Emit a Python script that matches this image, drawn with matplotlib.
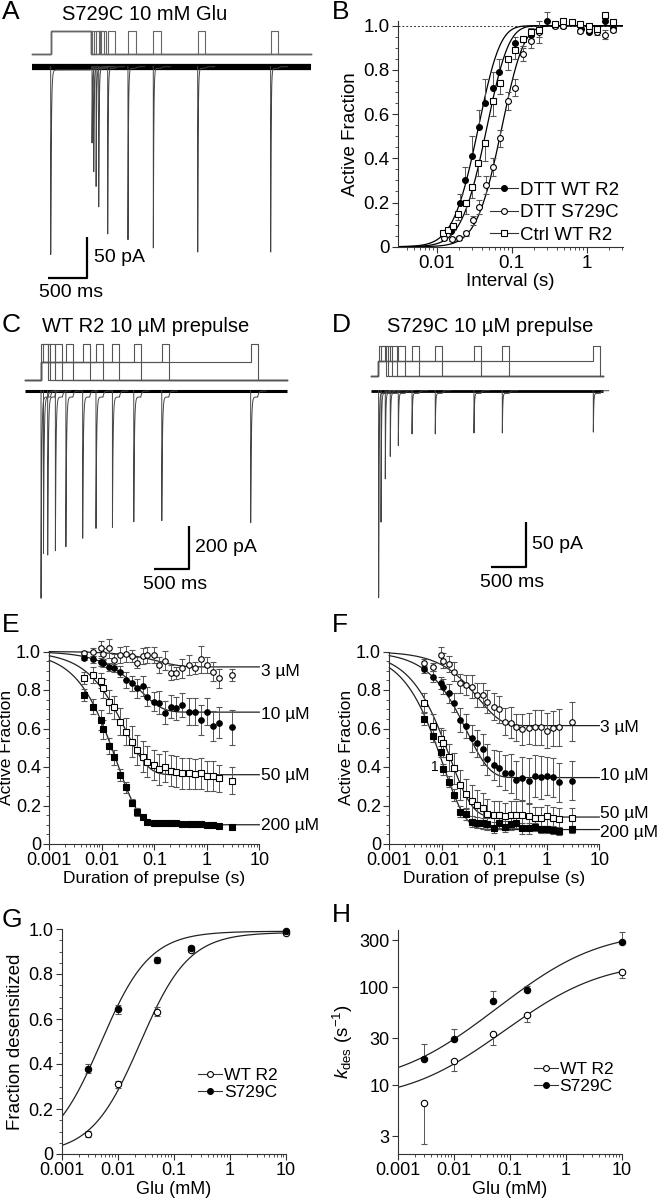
import numpy as np
import matplotlib
matplotlib.use("Agg")
import matplotlib.pyplot as plt
from matplotlib.lines import Line2D
from matplotlib.ticker import FixedLocator, FixedFormatter, MultipleLocator, LogLocator, NullFormatter, NullLocator

plt.rcParams['font.family'] = ['Liberation Sans', 'DejaVu Sans']
plt.rcParams['mathtext.fontset'] = 'custom'
plt.rcParams['mathtext.rm'] = 'Liberation Sans'
plt.rcParams['mathtext.it'] = 'Liberation Sans:italic'

# ---------------- data ----------------
# A: S729C, 10 mM Glu, conditioning pulse then test pulse (ms, pA)
a_cond_on = 240
a_cond_dur = 520
a_cond_peak = 229
a_intervals = [18, 40, 71, 105, 222, 486, 816, 1394, 2344]
a_peaks = [93, 128, 146, 171, 204, 211, 221, 226, 226]

# B: recovery from desensitization (interval s, active fraction)
b_wt_dtt_x = [0.0154, 0.0205, 0.0239, 0.0293, 0.037, 0.044, 0.0558, 0.0685, 0.111, 0.181, 0.296, 0.488, 0.83, 1.09, 1.75, 2.27]
b_wt_dtt_y = [0.07, 0.20, 0.30, 0.41, 0.54, 0.65, 0.72, 0.79, 0.92, 0.96, 1.02, 1.00, 0.985, 0.97, 1.02, 0.99]
b_wt_dtt_err = [0.02, 0.04, 0.06, 0.09, 0.08, 0.11, 0.07, 0.06, 0.03, 0.03, 0.04, 0.01, 0.01, 0.01, 0.02, 0.01]
b_s729c_dtt_x = [0.0125, 0.0158, 0.020, 0.0246, 0.0302, 0.037, 0.0455, 0.0558, 0.0698, 0.0885, 0.111, 0.143, 0.181, 0.234, 0.382, 0.488, 0.815, 1.06, 1.37, 1.75, 2.27]
b_s729c_dtt_y = [0.04, 0.035, 0.04, 0.06, 0.12, 0.18, 0.28, 0.36, 0.49, 0.66, 0.72, 0.87, 0.93, 0.97, 1.0, 1.0, 0.975, 0.98, 0.97, 0.96, 0.98]
b_s729c_dtt_err = [0.01, 0.01, 0.01, 0.01, 0.02, 0.03, 0.04, 0.04, 0.04, 0.04, 0.04, 0.03, 0.03, 0.05, 0.01, 0.01, 0.01, 0.01, 0.01, 0.02, 0.01]
b_wt_ctrl_x = [0.0123, 0.0143, 0.0163, 0.0194, 0.0246, 0.0293, 0.036, 0.044, 0.0558, 0.0698, 0.0885, 0.111, 0.143, 0.181, 0.234, 0.382, 0.488, 0.63, 0.815, 1.06, 1.37, 1.75, 2.27]
b_wt_ctrl_y = [0.06, 0.075, 0.095, 0.15, 0.20, 0.27, 0.38, 0.47, 0.66, 0.74, 0.85, 0.89, 0.94, 0.97, 0.98, 1.01, 1.02, 1.015, 1.01, 1.0, 0.985, 1.05, 1.015]
b_wt_ctrl_err = [0.01, 0.01, 0.02, 0.03, 0.05, 0.05, 0.06, 0.08, 0.07, 0.05, 0.05, 0.04, 0.03, 0.03, 0.03, 0.01, 0.01, 0.01, 0.01, 0.01, 0.02, 0.02, 0.01]
b_tau = [0.0185, 0.038, 0.024]   # fitted (1 - exp(-t/tau))^4
b_power = 4

# C / D: 10 uM prepulse duration (ms) and test peak (pA)
c_durations = [5, 40, 100, 210, 360, 600, 790, 1025, 1330, 1730, 3000]
c_peaks = [964, 755, 763, 743, 724, 685, 639, 634, 608, 603, 613]
d_durations = [5, 39, 100, 171, 286, 482, 814, 1367, 1772, 3072]
d_peaks = [230, 146, 98, 73, 61, 48, 48, 47, 47, 46]

# E / F: prepulse duration (s) vs active fraction
prepulse_s = [0.0045, 0.0068, 0.0097, 0.0107, 0.014, 0.0172, 0.0227, 0.029, 0.037, 0.0465, 0.06, 0.074, 0.097,
              0.124, 0.16, 0.207, 0.26, 0.34, 0.45, 0.585, 0.76, 0.99, 1.31, 1.71, 3.0]
conc_labels = ['3 µM', '10 µM', '50 µM', '200 µM']

e_3 = [0.994, 0.999, 1.016, 0.987, 1.016, 0.956, 0.982, 0.987, 0.977, 0.942, 0.977, 0.982, 0.982, 0.930, 0.952,
       0.890, 0.887, 0.913, 0.930, 0.913, 0.959, 0.930, 0.895, 0.861, 0.878]
e_10 = [0.965, 0.959, 0.947, 0.942, 0.918, 0.913, 0.895, 0.852, 0.835, 0.809, 0.821, 0.765, 0.739, 0.734, 0.683,
        0.714, 0.705, 0.722, 0.687, 0.687, 0.644, 0.687, 0.613, 0.630, 0.606]
e_50 = [0.861, 0.878, 0.848, 0.809, 0.739, 0.710, 0.636, 0.584, 0.532, 0.488, 0.454, 0.428, 0.410, 0.388, 0.402,
        0.381, 0.376, 0.367, 0.367, 0.364, 0.367, 0.353, 0.353, 0.341, 0.329]
e_200 = [0.774, 0.713, 0.644, 0.596, 0.509, 0.450, 0.358, 0.294, 0.215, 0.168, 0.142, 0.116, 0.111, 0.111, 0.107,
         0.107, 0.107, 0.104, 0.104, 0.102, 0.102, 0.099, 0.097, 0.094, 0.090]
e_3_err = [0.01, 0.02, 0.04, 0.03, 0.05, 0.03, 0.04, 0.04, 0.03, 0.03, 0.04, 0.04, 0.04, 0.04, 0.05, 0.04, 0.03,
           0.05, 0.05, 0.03, 0.07, 0.04, 0.05, 0.05, 0.03]
e_10_err = [0.01, 0.02, 0.02, 0.02, 0.02, 0.02, 0.03, 0.04, 0.04, 0.05, 0.05, 0.05, 0.05, 0.06, 0.06, 0.06, 0.06,
            0.06, 0.07, 0.07, 0.08, 0.07, 0.08, 0.08, 0.09]
e_50_err = [0.03, 0.04, 0.04, 0.05, 0.06, 0.06, 0.07, 0.07, 0.08, 0.08, 0.08, 0.08, 0.08, 0.08, 0.08, 0.08, 0.08,
            0.08, 0.08, 0.08, 0.08, 0.08, 0.08, 0.07, 0.07]
e_200_err = [0.03, 0.04, 0.05, 0.05, 0.04, 0.04, 0.03, 0.03, 0.02, 0.02, 0.01, 0.01, 0.01, 0.01, 0.01, 0.01, 0.01,
             0.01, 0.01, 0.01, 0.01, 0.01, 0.01, 0.01, 0.01]
e_ss = [0.92, 0.685, 0.36, 0.10]
e_tau = [0.12, 0.052, 0.028, 0.019]
e_label_y = [0.895, 0.675, 0.358, 0.094]

f_3 = [0.942, 0.918, 0.982, 0.952, 0.935, 0.895, 0.835, 0.826, 0.817, 0.774, 0.774, 0.739, 0.713, 0.701, 0.636,
       0.630, 0.606, 0.596, 0.601, 0.606, 0.606, 0.589, 0.601, 0.606, 0.636]
f_10 = [0.907, 0.869, 0.835, 0.817, 0.783, 0.734, 0.644, 0.613, 0.549, 0.523, 0.492, 0.440, 0.410, 0.393, 0.371,
        0.367, 0.332, 0.341, 0.329, 0.353, 0.346, 0.353, 0.346, 0.320, 0.329]
f_50 = [0.734, 0.613, 0.544, 0.523, 0.450, 0.393, 0.306, 0.260, 0.225, 0.203, 0.185, 0.156, 0.151, 0.151, 0.145,
        0.151, 0.151, 0.151, 0.145, 0.133, 0.133, 0.145, 0.133, 0.128, 0.137]
f_200 = [0.648, 0.561, 0.480, 0.388, 0.324, 0.255, 0.168, 0.156, 0.116, 0.111, 0.107, 0.104, 0.085, 0.107, 0.090,
         0.104, 0.111, 0.081, 0.081, 0.087, 0.076, 0.076, 0.073, 0.069, 0.076]
f_3_err = [0.02, 0.02, 0.04, 0.04, 0.04, 0.05, 0.05, 0.05, 0.06, 0.06, 0.06, 0.06, 0.07, 0.07, 0.07, 0.08, 0.07,
           0.08, 0.08, 0.09, 0.09, 0.09, 0.09, 0.095, 0.10]
f_10_err = [0.02, 0.03, 0.03, 0.04, 0.05, 0.05, 0.06, 0.06, 0.07, 0.07, 0.08, 0.08, 0.08, 0.09, 0.09, 0.10, 0.10,
            0.11, 0.12, 0.11, 0.11, 0.10, 0.10, 0.10, 0.10]
f_50_err = [0.05, 0.06, 0.06, 0.07, 0.07, 0.08, 0.08, 0.08, 0.08, 0.08, 0.08, 0.08, 0.07, 0.07, 0.07, 0.07, 0.07,
            0.07, 0.07, 0.06, 0.06, 0.06, 0.06, 0.06, 0.05]
f_200_err = [0.03, 0.03, 0.03, 0.03, 0.03, 0.03, 0.03, 0.03, 0.03, 0.03, 0.03, 0.03, 0.03, 0.03, 0.03, 0.03, 0.03,
             0.03, 0.03, 0.02, 0.02, 0.02, 0.02, 0.02, 0.02]
f_ss = [0.615, 0.345, 0.14, 0.075]
f_tau = [0.05, 0.03, 0.014, 0.0105]
f_label_y = [0.606, 0.358, 0.156, 0.059]

# G / H: Glu (mM)
glu_mm = [0.003, 0.01, 0.05, 0.2, 10]
g_wt = [0.089, 0.31, 0.632, 0.907, 0.984]
g_wt_err = [0.015, 0.015, 0.02, 0.01, 0.005]
g_s729c = [0.378, 0.643, 0.862, 0.914, 0.991]
g_s729c_err = [0.02, 0.02, 0.015, 0.01, 0.005]
g_fit = {'WT R2': (0.985, 0.025, 1.0), 'S729C': (0.99, 0.005, 1.0)}   # ymax, EC50, n

h_wt = [6.6, 17.7, 33.2, 51.8, 143]
h_wt_low = [2.48, 13.9, 25.6, 43.6, 123]
h_s729c = [18.4, 29.4, 72.4, 93, 290]
h_s729c_high = [26, 37, 91.6, 102, 366]
h_fit = {'WT R2': (7, 175, 1.2, 0.6), 'S729C': (10, 360, 1.2, 0.6)}   # k0, kmax, K, n

# ---------------- figure ----------------
W, H = 658, 1199
fig = plt.figure(figsize=(W / 100, H / 100), dpi=100)


def box(x0, y0, x1, y1):
    return fig.add_axes([x0 / W, 1 - y1 / H, (x1 - x0) / W, (y1 - y0) / H])


def ftext(x, y, s, **kw):
    fig.text(x / W, 1 - y / H, s, **kw)


def trace_axes(x0, y0, x1, y1, px_t0, ms_per_px, py_base, pa_per_px):
    ax = box(x0, y0, x1, y1)
    ax.set_xlim((x0 - px_t0) * ms_per_px, (x1 - px_t0) * ms_per_px)
    ax.set_ylim((py_base - y1) * pa_per_px, (py_base - y0) * pa_per_px)
    ax.axis('off')
    return ax


def response(t, t0, amp, width, tau, ss, tau_off=15.0):
    i = np.zeros_like(t)
    on = (t >= t0) & (t < t0 + width)
    i[on] = -(ss + (amp - ss) * np.exp(-(t[on] - t0) / tau))
    end = -(ss + (amp - ss) * np.exp(-width / tau))
    off = t >= t0 + width
    i[off] = end * np.exp(-(t[off] - t0 - width) / tau_off)
    return i


def spike(ax, t0, amp, width, tau, ss, color='#444444'):
    t = np.arange(t0 - 5, t0 + width + 120, 0.5)
    ax.plot(t, response(t, t0, amp, width, tau, ss), color=color, lw=0.7, zorder=2)


def scalebar(ax, x, y, dx, dy, lab_y, lab_x):
    ax.plot([x - dx, x, x], [y, y, y + dy], color='black', lw=1.6, solid_capstyle='butt')
    ax.text(x + dx * 0.18, y + dy / 2, lab_y, fontsize=14, ha='left', va='center')
    ax.text(x - dx * 0.4, y - dy * 0.35, lab_x, fontsize=14, ha='center', va='center')


test_w = 100

# ---- A
axA = trace_axes(0, 20, 330, 300, 32.3, 500 / 38.4, 66.7, 50 / 41)
t_end = 3625
base, high = 15, 44
cond_off = a_cond_on + a_cond_dur
for iv in a_intervals:
    tt = cond_off + iv
    axA.plot([0, a_cond_on, a_cond_on, cond_off, cond_off, tt, tt, tt + test_w, tt + test_w, t_end],
             [base, base, high, high, base, base, high, high, base, base], color='#666666', lw=0.8)
axA.plot([0, t_end], [0, 0], color='black', lw=4.5, solid_capstyle='butt', zorder=1)
spike(axA, a_cond_on, a_cond_peak, a_cond_dur, 8, 4)
for iv, pk in zip(a_intervals, a_peaks):
    spike(axA, cond_off + iv, pk, test_w, 6, 2)
scalebar(axA, 708, -257.8, 500, 50, '50 pA', '500 ms')

# ---- C
axC = trace_axes(0, 335, 330, 612, 40.7, 500 / 35, 391, 200 / 43)
c_start, c_end = -224, 3520
base, pre, high = 51, 136, 218
for d in c_durations:
    axC.plot([c_start, 0, 0, d, d, d + test_w, d + test_w, c_end],
             [base, base, pre, pre, high, high, base, base], color='#555555', lw=0.8)
axC.plot([c_start, c_end], [0, 0], color='black', lw=2.2, solid_capstyle='butt', zorder=1)
for d, pk in zip(c_durations, c_peaks):
    spike(axC, d, pk, test_w, 9, 28)
scalebar(axC, 2119, -828, 500, 200, '200 pA', '500 ms')

# ---- D
axD = trace_axes(330, 335, 658, 612, 378.3, 500 / 35, 390.7, 50 / 45)
d_start, d_end = -108, 3211
base, pre, high = 16.3, 33.3, 49.7
for d in d_durations:
    axD.plot([d_start, 0, 0, d, d, d + test_w, d + test_w, d_end],
             [base, base, pre, pre, high, high, base, base], color='#555555', lw=0.8)
axD.plot([d_start, d_end], [0, 0], color='black', lw=2.0, solid_capstyle='butt', zorder=1)
for d, pk in zip(d_durations, d_peaks):
    spike(axD, d, pk, test_w, 6, 3)
scalebar(axD, 2111, -195.9, 500, 50, '50 pA', '500 ms')


# ---- plot panels
def style(ax, xlim, xticks, xlabels, fs=13):
    ax.set_xscale('log')
    ax.set_xlim(*xlim)
    ax.xaxis.set_major_locator(FixedLocator(xticks))
    ax.xaxis.set_major_formatter(FixedFormatter(xlabels))
    ax.xaxis.set_minor_locator(LogLocator(base=10, subs=np.arange(2, 10), numticks=50))
    ax.xaxis.set_minor_formatter(NullFormatter())
    for s in ['top', 'right']:
        ax.spines[s].set_visible(False)
    for s in ['left', 'bottom']:
        ax.spines[s].set_linewidth(0.8)
        ax.spines[s].set_color('#333333')
    ax.tick_params(which='major', direction='out', length=4, width=0.8, labelsize=fs, pad=2, color='#333333')
    ax.tick_params(which='minor', direction='out', length=2, width=0.6, color='#333333')
    ax.patch.set_alpha(0)


def frac_y(ax, top=1.0):
    ax.set_ylim(0, top)
    ax.yaxis.set_major_locator(FixedLocator([0, 0.2, 0.4, 0.6, 0.8, 1.0]))
    ax.yaxis.set_major_formatter(FixedFormatter(['0', '0.2', '0.4', '0.6', '0.8', '1.0']))
    ax.yaxis.set_minor_locator(MultipleLocator(0.05))


def pts(ax, x, y, lo, hi, marker, filled, ms=4.2):
    c = ax.errorbar(x, y, yerr=[lo, hi], fmt=marker, ms=ms, mfc='black' if filled else 'white', mec='black',
                    mew=0.8, ecolor='#555555', elinewidth=0.7, capsize=2, capthick=0.7, zorder=3)
    for a in c.get_children():
        a.set_clip_on(False)


def handle(marker, filled):
    return Line2D([], [], color='#333333', lw=0.8, marker=marker, ms=4.2,
                  mfc='black' if filled else 'white', mec='black', mew=0.8)


# B
axB = box(398, 21.3, 623, 246.7)
style(axB, (0.00305, 3.05), [0.01, 0.1, 1], ['0.01', '0.1', '1'], fs=13.5)
frac_y(axB, 1.02)
axB.axhline(1.0, color='#333333', lw=0.7, ls=(0, (2, 2)))
tt = np.logspace(np.log10(0.00305), np.log10(3.05), 300)
for tau in b_tau:
    axB.plot(tt, (1 - np.exp(-tt / tau)) ** b_power, color='black', lw=0.9, zorder=2)
z = [0] * 30
pts(axB, b_wt_dtt_x, b_wt_dtt_y, z[:len(b_wt_dtt_x)], b_wt_dtt_err, 'o', True)
pts(axB, b_s729c_dtt_x, b_s729c_dtt_y, b_s729c_dtt_err, b_s729c_dtt_err, 'o', False)
pts(axB, b_wt_ctrl_x, b_wt_ctrl_y, b_wt_ctrl_err, z[:len(b_wt_ctrl_x)], 's', False)
axB.set_ylabel('Active Fraction', fontsize=13.5, labelpad=3)
axB.set_xlabel('Interval (s)', fontsize=13.5, labelpad=1)
axB.legend([handle('o', True), handle('o', False), handle('s', False)],
           ['DTT WT R2', 'DTT S729C', 'Ctrl WT R2'], loc='lower right', bbox_to_anchor=(1.04, -0.045),
           frameon=False, fontsize=13.5, handlelength=1.5, handletextpad=0.1, labelspacing=0.28,
           borderpad=0.2)


# E / F
def prepulse_panel(ax, series, errs, ss_list, tau_list, label_y, label_x):
    style(ax, (0.001, 10), [0.001, 0.01, 0.1, 1, 10], ['0.001', '0.01', '0.1', '1', '10'])
    frac_y(ax, 1.0)
    tt = np.logspace(-3, 1, 300)
    for ss, tau in zip(ss_list, tau_list):
        ax.plot(tt, ss + (1 - ss) * np.exp(-tt / tau), color='#222222', lw=0.9, zorder=2, clip_on=False)
    styles = [('o', False), ('o', True), ('s', False), ('s', True)]
    for (m, f), y, e in zip(styles, series, errs):
        pts(ax, prepulse_s, y, e, e, m, f, ms=4.0)
    for lab, ly in zip(conc_labels, label_y):
        ax.text(label_x, ly, lab, fontsize=12.5, ha='left', va='center', clip_on=False)
    ax.set_ylabel('Active Fraction', fontsize=12.5, labelpad=1)
    ax.set_xlabel('Duration of prepulse (s)', fontsize=12.5, labelpad=1)


axE = box(49.3, 651.5, 259.3, 844)
prepulse_panel(axE, [e_3, e_10, e_50, e_200], [e_3_err, e_10_err, e_50_err, e_200_err], e_ss, e_tau,
               e_label_y, 10.8)
axF = box(389.3, 651.5, 599.3, 844)
prepulse_panel(axF, [f_3, f_10, f_50, f_200], [f_3_err, f_10_err, f_50_err, f_200_err], f_ss, f_tau,
               f_label_y, 10.2)
axF.text(0.0074, 0.40, '1', fontsize=10, ha='center', va='center')

# G
axG = box(61.7, 929, 286, 1154)
style(axG, (0.001, 10), [0.001, 0.01, 0.1, 1, 10], ['0.001', '0.01', '0.1', '1', '10'])
frac_y(axG, 1.0)
xx = np.logspace(-3, 1, 300)
for ymax, ec50, n in g_fit.values():
    axG.plot(xx, ymax / (1 + (ec50 / xx) ** n), color='#222222', lw=0.9, zorder=2)
pts(axG, glu_mm, g_wt, g_wt_err, g_wt_err, 'o', False, ms=4.6)
pts(axG, glu_mm, g_s729c, g_s729c_err, g_s729c_err, 'o', True, ms=4.6)
axG.set_ylabel('Fraction desensitized', fontsize=13.5, labelpad=3)
axG.set_xlabel('Glu (mM)', fontsize=13, labelpad=1)
axG.legend([handle('o', False), handle('o', True)], list(g_fit.keys()), loc='center left',
           bbox_to_anchor=(0.56, 0.31), frameon=False, fontsize=12.5, handlelength=1.4,
           handletextpad=0.1, labelspacing=0.1, borderpad=0.1)

# H
axH = box(397.7, 930, 621.7, 1154)
style(axH, (0.001, 10), [0.001, 0.01, 0.1, 1, 10], ['0.001', '0.01', '0.1', '1', '10'])
axH.set_yscale('log')
axH.set_ylim(1.98, 382)
axH.yaxis.set_major_locator(FixedLocator([3, 10, 30, 100, 300]))
axH.yaxis.set_major_formatter(FixedFormatter(['3', '10', '30', '100', '300']))
axH.yaxis.set_minor_locator(NullLocator())
for k0, kmax, K, n in h_fit.values():
    axH.plot(xx, k0 + kmax * xx ** n / (xx ** n + K ** n), color='#222222', lw=0.9, zorder=2)
zz = [0] * 5
pts(axH, glu_mm, h_wt, np.array(h_wt) - np.array(h_wt_low), zz, 'o', False, ms=4.6)
pts(axH, glu_mm, h_s729c, zz, np.array(h_s729c_high) - np.array(h_s729c), 'o', True, ms=4.6)
axH.set_ylabel(r'$k_{\mathrm{des}}$ (s$^{-1}$)', fontsize=13.5, labelpad=3)
axH.set_xlabel('Glu (mM)', fontsize=13, labelpad=1)
axH.legend([handle('o', False), handle('o', True)], list(h_fit.keys()), loc='center left',
           bbox_to_anchor=(0.56, 0.34), frameon=False, fontsize=12.5, handlelength=1.4,
           handletextpad=0.1, labelspacing=0.1, borderpad=0.1)

# ---- panel letters and titles
for lab, x, y in [('A', 2, 12), ('B', 332, 12), ('C', 2, 325), ('D', 332, 325),
                  ('E', 2, 625), ('F', 332, 625), ('G', 2, 920), ('H', 332, 915)]:
    ftext(x, y, lab, fontsize=19, ha='left', va='center')
ftext(145, 15, 'S729C 10 mM Glu', fontsize=14.5, ha='center', va='center')
ftext(146, 326, 'WT R2 10 µM prepulse', fontsize=14.5, ha='center', va='center')
ftext(490, 326, 'S729C 10 µM prepulse', fontsize=14.5, ha='center', va='center')

fig.savefig('out.png', dpi=100)
